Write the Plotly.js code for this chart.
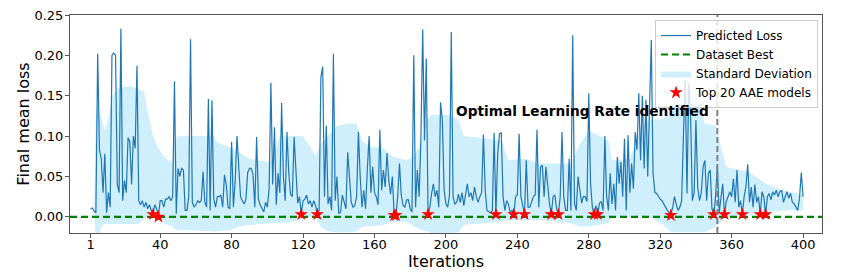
<!DOCTYPE html>
<html>
<head>
<meta charset="utf-8">
<script src="https://cdn.plot.ly/plotly-3.0.1.min.js"></script>
<style>html,body{margin:0;padding:0;background:#fff;}#chart{width:868px;height:273px;}</style>
</head>
<body>
<div id="chart"></div>
<script>
// ---- data ----
const predictedLoss = [
0.010,0.011,0.007,0.005,0.202,0.083,0.072,0.030,0.078,0.005,
0.030,0.012,0.200,0.203,0.200,0.040,0.030,0.233,0.020,0.045,
0.030,0.098,0.093,0.040,0.100,0.085,0.187,0.020,0.015,0.020,
0.012,0.018,0.010,0.015,0.008,0.004,0.015,0.010,0.001,0.020,
0.020,0.012,0.022,0.022,0.025,0.020,0.025,0.168,0.004,0.060,
0.050,0.060,0.058,0.008,0.008,0.025,0.220,0.018,0.012,0.015,
0.020,0.018,0.020,0.056,0.018,0.012,0.146,0.008,0.144,0.022,
0.012,0.025,0.025,0.027,0.012,0.052,0.040,0.012,0.010,0.093,
0.012,0.045,0.100,0.055,0.025,0.020,0.016,0.022,0.055,0.060,
0.060,0.052,0.012,0.099,0.022,0.015,0.010,0.006,0.018,0.012,
0.035,0.166,0.040,0.111,0.015,0.054,0.030,0.141,0.050,0.020,
0.105,0.055,0.028,0.025,0.099,0.050,0.017,0.025,0.004,0.020,
0.022,0.027,0.016,0.020,0.012,0.020,0.014,0.004,0.008,0.173,
0.186,0.025,0.113,0.016,0.025,0.008,0.202,0.020,0.050,0.004,
0.006,0.027,0.018,0.010,0.080,0.050,0.018,0.012,0.014,0.025,
0.105,0.050,0.012,0.033,0.010,0.059,0.100,0.030,0.062,0.030,
0.025,0.015,0.108,0.033,0.058,0.037,0.079,0.045,0.028,0.050,
0.003,0.002,0.025,0.066,0.027,0.014,0.012,0.021,0.021,0.010,
0.006,0.200,0.012,0.058,0.025,0.097,0.232,0.095,0.196,0.003,
0.012,0.029,0.041,0.025,0.033,0.012,0.142,0.120,0.033,0.016,
0.012,0.027,0.229,0.025,0.016,0.018,0.028,0.018,0.030,0.014,
0.030,0.041,0.025,0.030,0.020,0.037,0.025,0.018,0.025,0.030,
0.102,0.033,0.008,0.006,0.005,0.008,0.104,0.003,0.078,0.103,
0.104,0.025,0.008,0.020,0.016,0.006,0.008,0.003,0.025,0.027,
0.103,0.025,0.012,0.003,0.070,0.012,0.012,0.018,0.025,0.027,
0.108,0.012,0.062,0.064,0.025,0.062,0.037,0.016,0.003,0.025,
0.027,0.010,0.003,0.025,0.105,0.025,0.008,0.008,0.072,0.008,
0.225,0.017,0.008,0.050,0.033,0.017,0.025,0.025,0.019,0.153,
0.041,0.012,0.003,0.014,0.003,0.017,0.019,0.008,0.100,0.025,
0.008,0.054,0.016,0.041,0.008,0.074,0.041,0.068,0.025,0.097,
0.008,0.101,0.030,0.066,0.035,0.105,0.083,0.153,0.070,0.150,
0.060,0.145,0.050,0.140,0.219,0.054,0.030,0.029,0.025,0.022,
0.020,0.015,0.012,0.008,0.006,0.003,0.012,0.025,0.015,0.008,
0.012,0.020,0.100,0.170,0.029,0.165,0.124,0.020,0.030,0.120,
0.037,0.020,0.030,0.062,0.070,0.020,0.054,0.058,0.010,0.003,
0.025,0.062,0.005,0.025,0.041,0.003,0.019,0.025,0.031,0.025,
0.047,0.018,0.058,0.012,0.020,0.003,0.025,0.037,0.065,0.018,
0.037,0.012,0.040,0.018,0.025,0.003,0.031,0.025,0.003,0.025,
0.029,0.021,0.031,0.027,0.033,0.025,0.031,0.033,0.018,0.025,
0.031,0.023,0.029,0.018,0.016,0.012,0.008,0.023,0.055,0.025
];
const iterations = predictedLoss.map((_, i) => i + 1);

const bandIter  = [3,4,5,7,9,11,13,17,23,28,31,33,36,39,42,47,48,50,70,72,80,84,90,101,103,107,120,123,127,130,134,138,146,150,153,157,165,170,178,182,186,189,192,202,207,210,231,235,245,252,270,275,280,291,293,303,309,314,322,326,332,336,342,345,351,354,357,370,380,390,400];
const bandUpper = [0.010,0.130,0.136,0.120,0.107,0.120,0.150,0.160,0.162,0.158,0.155,0.130,0.100,0.085,0.075,0.066,0.095,0.100,0.100,0.092,0.085,0.080,0.072,0.068,0.070,0.100,0.100,0.090,0.075,0.090,0.100,0.112,0.116,0.115,0.095,0.087,0.085,0.075,0.070,0.075,0.090,0.120,0.126,0.126,0.120,0.100,0.095,0.070,0.072,0.066,0.066,0.090,0.107,0.095,0.070,0.072,0.110,0.120,0.122,0.130,0.135,0.155,0.140,0.115,0.113,0.087,0.062,0.055,0.040,0.032,0.028];
const bandLower = [0.005,-0.030,-0.030,-0.012,-0.009,-0.009,-0.009,-0.009,-0.009,-0.009,-0.002,0.002,0.004,0.003,-0.008,-0.012,-0.015,-0.016,-0.018,-0.018,-0.016,-0.012,-0.010,-0.008,-0.008,-0.008,-0.004,0.000,0.000,-0.012,-0.018,-0.019,-0.019,-0.018,-0.012,-0.012,-0.010,-0.006,-0.006,-0.012,-0.016,-0.018,-0.020,-0.020,-0.019,-0.010,-0.006,-0.004,-0.004,-0.004,-0.008,-0.012,-0.012,-0.008,0.000,0.000,0.000,0.000,-0.010,-0.019,-0.019,-0.019,-0.019,-0.019,-0.012,-0.006,0.000,0.002,0.006,0.008,0.008];

const topIter = [36,39,119,128,171,172,190,228,238,244,259,263,283,285,326,350,356,366,376,379];
const topLoss = [0.003,0.000,0.003,0.003,0.002,0.002,0.003,0.003,0.003,0.003,0.003,0.003,0.003,0.003,0.002,0.003,0.003,0.003,0.003,0.003];

const datasetBest = 0.0;
const optimalIter = 352;
const annotationText = "Optimal Learning Rate identified";

const xTickVals = [1,40,80,120,160,200,240,280,320,360,400];
const yTickVals = [0.00,0.05,0.10,0.15,0.20,0.25];
const xRange = [-10.5, 410.6];
const yRange = [-0.02, 0.25];

// ---- traces ----
const traces = [
  {x: bandIter, y: bandLower, mode: 'lines', line: {width: 0}, hoverinfo: 'skip', showlegend: false},
  {x: bandIter, y: bandUpper, mode: 'lines', line: {width: 0}, fill: 'tonexty',
   fillcolor: 'rgba(150,220,250,0.45)', name: 'Standard Deviation', legendrank: 3},
  {x: iterations, y: predictedLoss, mode: 'lines', line: {color: '#1f77b4', width: 1.2},
   name: 'Predicted Loss', legendrank: 1},
  {x: xRange, y: [datasetBest, datasetBest], mode: 'lines',
   line: {color: 'rgb(0,128,0)', width: 2.2, dash: '7px,4px'}, name: 'Dataset Best', legendrank: 2},
  {x: topIter, y: topLoss, mode: 'markers', cliponaxis: false,
   marker: {symbol: 'star', color: 'red', size: 10, line: {width: 0}},
   name: 'Top 20 AAE models', legendrank: 4}
];

const layout = {
  width: 868, height: 273,
  margin: {l: 70, r: 46, t: 15, b: 40},
  paper_bgcolor: '#fff', plot_bgcolor: '#fff',
  font: {family: 'DejaVu Sans', color: '#000', size: 13},
  showlegend: true,
  legend: {x: 0.9947, xanchor: 'right', y: 0.977, yanchor: 'top', traceorder: 'normal',
    bgcolor: 'rgba(255,255,255,0.8)', bordercolor: '#cccccc', borderwidth: 1,
    font: {size: 12, family: 'DejaVu Sans'}, tracegroupgap: 0, itemwidth: 30},
  xaxis: {range: xRange, tickvals: xTickVals, ticktext: xTickVals.map(String),
    ticks: 'outside', ticklen: 4, tickcolor: '#555', showline: true, mirror: true,
    linecolor: '#555', linewidth: 1, showgrid: false, zeroline: false, ticklabelstandoff: -5,
    tickfont: {size: 13}, title: {text: 'Iterations', font: {size: 16}, standoff: 3}},
  yaxis: {range: yRange, tickvals: yTickVals, ticktext: yTickVals.map(v => v.toFixed(2)),
    ticks: 'outside', ticklen: 4, tickcolor: '#555', showline: true, mirror: true,
    linecolor: '#555', linewidth: 1, showgrid: false, zeroline: false, ticklabelstandoff: -1,
    tickfont: {size: 13}, title: {text: 'Final mean loss', font: {size: 16}, standoff: 0}},
  shapes: [{type: 'line', xref: 'x', yref: 'paper', x0: optimalIter, x1: optimalIter, y0: 0, y1: 1,
    line: {color: 'gray', width: 2, dash: '6px,3px'}}],
  annotations: [{text: '<b>' + annotationText + '</b>', xref: 'x', yref: 'y',
    x: 204.5, y: 0.1308, xanchor: 'left', yanchor: 'middle', showarrow: false,
    font: {size: 13.7, color: '#000', family: 'DejaVu Sans'}}]
};

Plotly.newPlot('chart', traces, layout, {staticPlot: true, displayModeBar: false});
</script>
</body>
</html>
